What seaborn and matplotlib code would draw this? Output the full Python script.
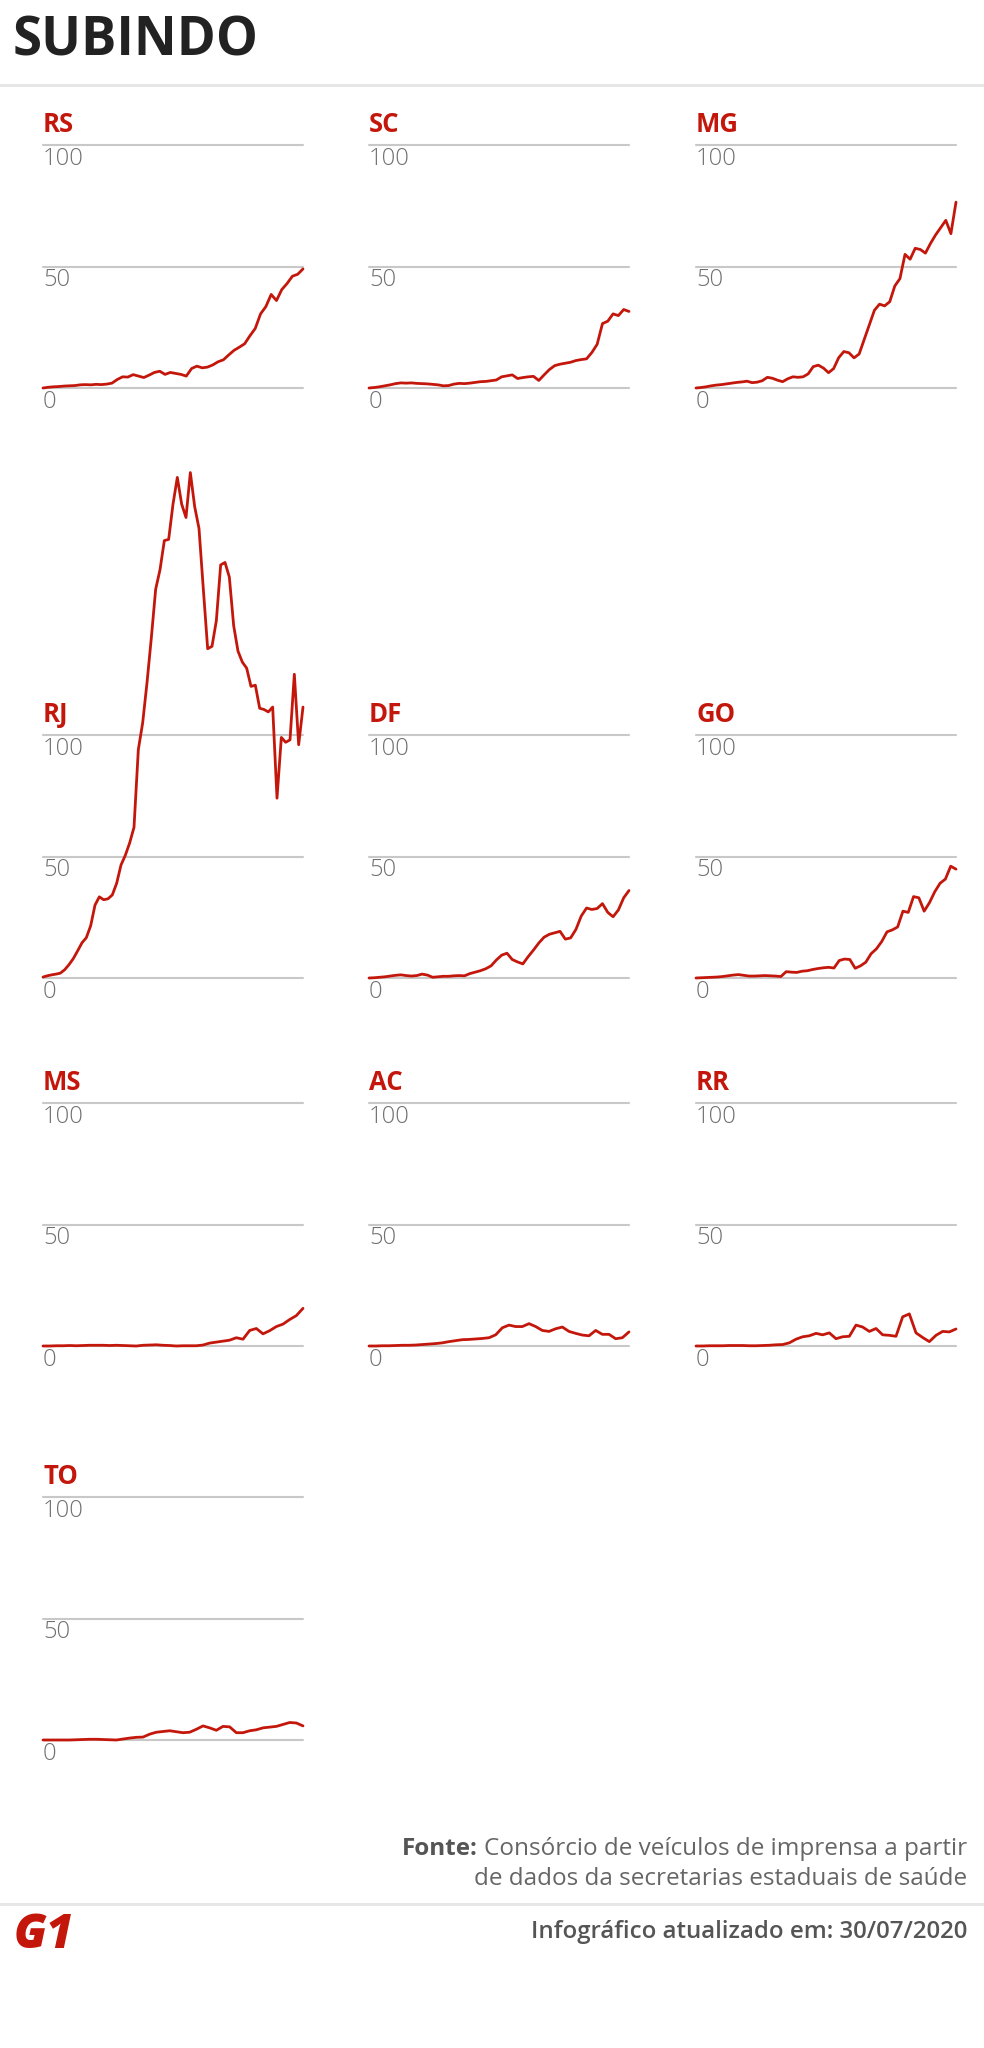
import numpy as np
import matplotlib
matplotlib.use("Agg")
import matplotlib.pyplot as plt
from matplotlib.lines import Line2D
import seaborn as sns

# Dados (casos por dia, escala 0-100)
states = ["RS", "SC", "MG", "RJ", "DF", "GO", "MS", "AC", "RR", "TO"]

rs = [0, 0.3, 0.5, 0.6, 0.8, 0.9, 1.0, 1.3, 1.4, 1.3, 1.5, 1.4, 1.6, 2.0, 3.5, 4.6, 4.5, 5.5,
      4.9, 4.3, 5.3, 6.4, 6.9, 5.6, 6.4, 6.0, 5.6, 4.9, 8.0, 9.0, 8.3, 8.6, 9.5, 10.8, 11.6,
      13.6, 15.5, 16.8, 18.2, 21.5, 24.5, 30.5, 33.5, 38.5, 36.0, 40.5, 43.0, 46.0, 46.8, 49.0]
sc = [0, 0.2, 0.5, 0.9, 1.3, 1.8, 2.1, 2.0, 2.1, 1.9, 1.8, 1.7, 1.5, 1.3, 0.9, 1.0, 1.6, 1.9,
      1.8, 2.0, 2.3, 2.6, 2.7, 3.0, 3.3, 4.6, 5.0, 5.4, 3.9, 4.3, 4.6, 4.8, 3.1, 5.4, 7.6, 9.2,
      9.8, 10.2, 10.6, 11.3, 11.7, 12.0, 14.6, 18.0, 26.5, 27.5, 30.5, 29.8, 32.3, 31.5]
mg = [0, 0.2, 0.5, 0.9, 1.2, 1.4, 1.7, 2.0, 2.3, 2.5, 2.8, 2.2, 2.4, 3.0, 4.4, 4.0, 3.2, 2.6,
      3.8, 4.6, 4.4, 4.6, 5.8, 8.8, 9.4, 8.2, 6.3, 8.0, 12.5, 15.0, 14.5, 12.4, 14.0, 20.0,
      26.0, 32.0, 34.5, 33.8, 35.5, 42.0, 45.0, 55.0, 53.0, 57.5, 57.0, 55.5, 59.5, 63.0,
      66.0, 69.0, 63.5, 76.5]
rj = [0.4, 0.9, 1.3, 1.6, 2.0, 3.4, 5.5, 8.0, 11.2, 14.5, 16.6, 21.5, 30.0, 33.4, 32.2, 32.6,
      34.2, 39.0, 46.5, 50.5, 55.6, 62.0, 94.0, 105.0, 121.5, 140.0, 160.0, 168.0, 180.0,
      180.5, 195.0, 206.0, 195.0, 189.5, 208.0, 194.0, 185.0, 160.0, 135.5, 136.5, 147.0,
      170.0, 171.0, 165.0, 145.0, 134.5, 130.0, 127.5, 120.0, 120.5, 111.0, 110.5, 109.5,
      111.5, 74.0, 99.0, 97.0, 98.0, 125.0, 96.0, 111.5]
df = [0, 0.1, 0.3, 0.5, 0.8, 1.1, 1.3, 1.0, 0.8, 1.0, 1.6, 1.2, 0.3, 0.5, 0.7, 0.7, 0.9, 1.0,
      0.9, 1.8, 2.4, 3.0, 3.8, 5.0, 7.4, 9.4, 10.2, 7.6, 6.6, 5.8, 8.8, 11.5, 14.4, 16.8, 18.0,
      18.6, 19.2, 16.0, 16.5, 20.0, 25.5, 28.8, 28.2, 28.6, 30.6, 27.0, 25.2, 28.0, 33.0, 36.0]
go = [0, 0.1, 0.2, 0.3, 0.4, 0.6, 0.9, 1.2, 1.4, 1.1, 0.8, 0.8, 0.9, 1.0, 0.9, 0.8, 0.6, 2.6,
      2.4, 2.3, 2.8, 3.0, 3.5, 3.9, 4.2, 4.4, 4.1, 7.2, 7.8, 7.6, 4.0, 5.0, 6.5, 10.0, 12.0,
      15.0, 19.0, 19.8, 21.0, 27.5, 27.0, 33.5, 33.0, 27.5, 31.0, 35.5, 39.0, 40.7, 46.0, 44.8]
ms = [0, 0, 0.1, 0.1, 0.2, 0.1, 0.2, 0.3, 0.3, 0.3, 0.2, 0.3, 0.2, 0.1, 0.0, 0.3, 0.4, 0.5,
      0.3, 0.2, 0.0, 0.1, 0.1, 0.1, 0.4, 1.2, 1.6, 2.0, 2.4, 3.4, 2.8, 6.4, 7.2, 5.0, 6.3,
      8.0, 9.0, 10.9, 12.5, 15.5]
ac = [0, 0.0, 0.1, 0.1, 0.2, 0.3, 0.3, 0.4, 0.6, 0.8, 1.0, 1.3, 1.8, 2.2, 2.6, 2.7, 2.9, 3.1,
      3.4, 4.6, 7.5, 8.6, 8.0, 8.0, 9.2, 8.0, 6.4, 6.0, 7.1, 7.8, 6.0, 5.2, 4.5, 4.2, 6.4,
      4.8, 4.8, 3.0, 3.4, 5.8]
rr = [0, 0, 0.1, 0.1, 0.1, 0.2, 0.2, 0.2, 0.1, 0.1, 0.2, 0.3, 0.5, 0.6, 1.3, 2.8, 3.8, 4.2,
      5.2, 4.6, 5.4, 3.0, 3.8, 4.0, 8.6, 7.8, 6.0, 7.2, 4.6, 4.4, 4.0, 12.0, 13.2, 5.4, 3.5,
      1.8, 4.4, 6.0, 5.8, 7.0]
to = [0, 0, 0, 0, 0, 0.1, 0.2, 0.3, 0.3, 0.2, 0.1, 0.0, 0.4, 0.8, 1.1, 1.2, 2.4, 3.2, 3.5,
      3.8, 3.4, 3.0, 3.2, 4.4, 5.8, 5.0, 4.0, 5.6, 5.4, 3.0, 3.0, 3.8, 4.2, 5.0, 5.3, 5.6,
      6.4, 7.2, 7.0, 5.8]

series = dict(zip(states, [rs, sc, mg, rj, df, go, ms, ac, rr, to]))
yticks = [0, 50, 100]

RED = "#c4170c"
GRID = "#c8c8c8"

sns.set_style("white")
plt.rcParams["font.family"] = ["Open Sans", "DejaVu Sans"]

W, H = 984, 2048
fig = plt.figure(figsize=(W / 100, H / 100), dpi=100)

# posicoes dos paineis em pixels
col_left = [43, 369, 696]
row_top = [145, 735, 1103, 1497]   # linha do 100
pw, ph = 260, 243

for i, st in enumerate(states):
    r, c = divmod(i, 3)
    x0, y100 = col_left[c], row_top[r]
    ax = fig.add_axes([x0 / W, 1 - (y100 + ph) / H, pw / W, ph / H])
    vals = series[st]
    sns.lineplot(x=np.arange(len(vals)), y=vals, ax=ax, color=RED, linewidth=2.0, zorder=3)
    for ln in ax.lines:
        ln.set_clip_on(False)
    for v in yticks:
        ax.axhline(v, color=GRID, lw=1.5, clip_on=False, zorder=1)
        ax.annotate(str(v), xy=(0, v), xycoords=("axes fraction", "data"),
                    xytext=(0, -2), textcoords="offset pixels",
                    ha="left", va="top", fontsize=17, color="#707070",
                    fontweight="light")
    ax.annotate(st, xy=(0, 100), xycoords=("axes fraction", "data"),
                xytext=(0, 13), textcoords="offset pixels",
                ha="left", va="baseline", fontsize=18.5, fontweight="bold", color=RED)
    ax.set_xlim(0, len(vals) - 1)
    ax.set_ylim(0, 100)
    ax.axis("off")

# titulo
fig.text(13 / W, 1 - 56 / H, "SUBINDO", fontsize=38, fontweight="bold",
         color="#222222", ha="left", va="baseline")
fig.add_artist(Line2D([0, 1], [1 - 85 / H] * 2, transform=fig.transFigure,
                      color="#e6e6e6", lw=2.2))

# rodape
renderer = fig.canvas.get_renderer()
t1 = fig.text(967 / W, 1 - 1855 / H, "Consórcio de veículos de imprensa a partir",
              fontsize=17.5, color="#666666", ha="right", va="baseline")
bb = t1.get_window_extent(renderer=renderer)
fig.text((bb.x0 - 6) / W, 1 - 1855 / H, "Fonte:", fontsize=17.5, fontweight="bold",
         color="#555555", ha="right", va="baseline")
fig.text(967 / W, 1 - 1885 / H, "de dados da secretarias estaduais de saúde",
         fontsize=17.5, color="#666666", ha="right", va="baseline")
fig.add_artist(Line2D([0, 1], [1 - 1904 / H] * 2, transform=fig.transFigure,
                      color="#e6e6e6", lw=2.2))
fig.text(967 / W, 1 - 1938 / H, "Infográfico atualizado em: 30/07/2020",
         fontsize=17.3, fontweight="semibold", color="#555555", ha="right", va="baseline")
fig.text(14 / W, 1 - 1948 / H, "G1", fontsize=34, fontweight="heavy", color=RED,
         ha="left", va="baseline", fontstyle="italic")

fig.savefig("out.png", dpi=100)
